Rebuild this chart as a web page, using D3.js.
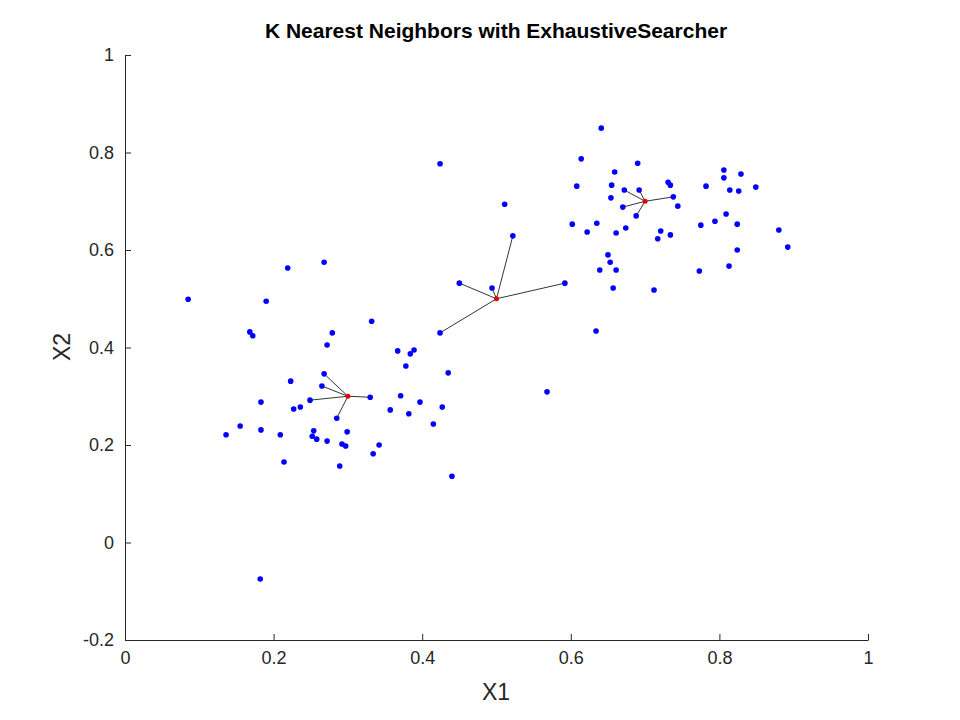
<!DOCTYPE html><html><head><meta charset="utf-8"><script src="https://cdn.jsdelivr.net/npm/d3@7"></script>
<style>body{margin:0;background:#fff}</style></head><body><svg id="c" width="960" height="720"></svg><script>
const px=[0.085,0.219,0.268,0.190,0.168,0.172,0.279,0.272,0.332,0.450,0.424,0.367,0.384,0.389,0.378,0.435,0.223,0.268,0.265,0.249,0.330,0.285,0.183,0.227,0.236,0.371,0.397,0.357,0.382,0.427,0.415,0.155,0.136,0.183,0.209,0.254,0.252,0.258,0.272,0.299,0.292,0.297,0.342,0.334,0.214,0.289,0.440,0.182,0.424,0.511,0.522,0.494,0.592,0.568,
0.641,0.614,0.659,0.690,0.608,0.655,0.672,0.692,0.654,0.670,0.688,0.731,0.734,0.738,0.744,0.602,0.622,0.635,0.661,0.674,0.721,0.734,0.717,0.650,0.653,0.639,0.661,0.657,0.712,0.806,0.806,0.829,0.782,0.814,0.826,0.849,0.809,0.794,0.824,0.775,0.880,0.892,0.824,0.813,0.773,0.634];
const py=[0.499,0.563,0.575,0.495,0.432,0.424,0.430,0.405,0.454,0.532,0.430,0.393,0.387,0.395,0.362,0.348,0.331,0.346,0.321,0.292,0.298,0.255,0.288,0.274,0.278,0.301,0.288,0.272,0.264,0.278,0.243,0.239,0.221,0.231,0.221,0.229,0.218,0.212,0.208,0.227,0.202,0.198,0.200,0.182,0.165,0.157,0.136,-0.075,0.777,0.694,0.629,0.522,0.532,0.309,
0.850,0.787,0.760,0.778,0.731,0.733,0.723,0.723,0.707,0.688,0.670,0.739,0.733,0.709,0.690,0.653,0.637,0.655,0.635,0.645,0.639,0.631,0.623,0.590,0.575,0.559,0.559,0.522,0.518,0.764,0.748,0.756,0.731,0.723,0.721,0.729,0.674,0.659,0.653,0.651,0.641,0.606,0.600,0.567,0.557,0.434];
const qx=[0.3,0.5,0.7], qy=[0.3,0.5,0.7];
const K=5;
const xTicks=[0,0.2,0.4,0.6,0.8,1], yTicks=[-0.2,0,0.2,0.4,0.6,0.8,1];
const svg=d3.select("#c");
const x=d3.scaleLinear().domain([0,1]).range([125,868]);
const y=d3.scaleLinear().domain([-0.2,1]).range([640,55]);
const ff="Liberation Sans, Arial, sans-serif";
const fmt=d=>String(d);
svg.append("g").attr("transform","translate(0,640)").call(d3.axisBottom(x).tickValues(xTicks).tickFormat(fmt).tickSizeInner(-6).tickSizeOuter(0).tickPadding(11))
 .call(g=>{g.selectAll("text").attr("font-size",18).attr("font-family",ff).attr("fill","#262626");g.selectAll("line,path").attr("stroke","#262626");});
svg.append("g").attr("transform","translate(125,0)").call(d3.axisLeft(y).tickValues(yTicks).tickFormat(fmt).tickSizeInner(-6).tickSizeOuter(0).tickPadding(11))
 .call(g=>{g.selectAll("text").attr("font-size",18).attr("font-family",ff).attr("fill","#262626");g.selectAll("line,path").attr("stroke","#262626");});
const pts=px.map((v,i)=>[v,py[i]]);
qx.forEach((cx,j)=>{const cy=qy[j];
 const nn=pts.map(p=>[p,Math.hypot(p[0]-cx,p[1]-cy)]).sort((a,b)=>a[1]-b[1]).slice(0,K);
 nn.forEach(([p])=>svg.append("line").attr("x1",x(cx)).attr("y1",y(cy)).attr("x2",x(p[0])).attr("y2",y(p[1])).attr("stroke","#000").attr("stroke-width",0.8));
});
svg.selectAll("circle.p").data(pts).join("circle").attr("cx",d=>x(d[0])).attr("cy",d=>y(d[1])).attr("r",2.8).attr("fill","#0000ff");
qx.forEach((cx,j)=>svg.append("circle").attr("cx",x(cx)).attr("cy",y(qy[j])).attr("r",2.5).attr("fill","#e00000"));
svg.append("text").attr("x",496).attr("y",38).attr("text-anchor","middle").attr("font-family",ff).attr("font-weight","bold").attr("font-size",21).attr("fill","#000").text("K Nearest Neighbors with ExhaustiveSearcher");
svg.append("text").attr("x",496).attr("y",700).attr("text-anchor","middle").attr("font-family",ff).attr("font-size",23).attr("fill","#262626").text("X1");
svg.append("text").attr("transform","translate(70,347) rotate(-90)").attr("text-anchor","middle").attr("font-family",ff).attr("font-size",23).attr("fill","#262626").text("X2");
</script></body></html>
